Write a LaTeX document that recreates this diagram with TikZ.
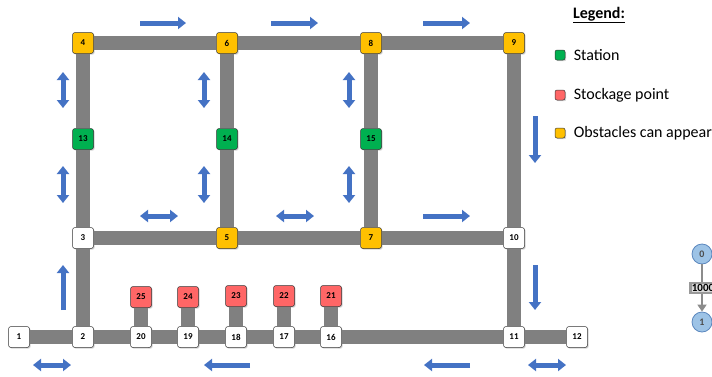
\documentclass[tikz,border=0pt]{standalone}
\usepackage{fontspec}
\setmainfont{Carlito}
\usetikzlibrary{arrows.meta,shadows,backgrounds}
\definecolor{roadgray}{RGB}{128,128,128}
\definecolor{flowblue}{RGB}{68,114,196}
\definecolor{obstyellow}{RGB}{255,192,0}
\definecolor{stationgreen}{RGB}{0,176,80}
\definecolor{stockred}{RGB}{255,102,102}
\definecolor{graphblue}{RGB}{157,195,230}
\definecolor{graphedge}{RGB}{91,135,190}
\tikzset{
  spot/.style={draw=black!80, line width=0.5pt, rounded corners=2.5pt,
    minimum size=21pt, inner sep=0pt, fill=white,
    font=\bfseries\fontsize{9}{9}\selectfont,
    drop shadow={shadow xshift=1.2pt, shadow yshift=-1.2pt, opacity=0.35}},
  obstacle/.style={spot, fill=obstyellow},
  station/.style={spot, fill=stationgreen},
  stock/.style={spot, fill=stockred},
  keybox/.style={spot, minimum size=10pt, rounded corners=2pt},
  road/.style={roadgray, line width=14pt},
  flow/.style={flowblue, line width=5pt, -{Triangle[width=12pt,length=8pt]}},
  flowboth/.style={flowblue, line width=5pt,
    {Triangle[width=12pt,length=8pt]}-{Triangle[width=12pt,length=8pt]}},
  keytext/.style={anchor=west, font=\fontsize{16}{17}\selectfont},
  vertex/.style={circle, draw=graphedge, line width=0.8pt, fill=graphblue,
    minimum size=20pt, inner sep=0pt, text=black!70, font=\bfseries\fontsize{10}{10}\selectfont}
}
\begin{document}
\begin{tikzpicture}[x=1pt, y=-1pt]
    \useasboundingbox (0,0) rectangle (712,376);

    % top row
    \node[obstacle] (n4) at (83,43) {4};
    \node[obstacle] (n6) at (227,43) {6};
    \node[obstacle] (n8) at (371,43) {8};
    \node[obstacle] (n9) at (514,43) {9};
    % stations
    \node[station] (n13) at (83,139) {13};
    \node[station] (n14) at (227,139) {14};
    \node[station] (n15) at (371,139) {15};
    % middle row
    \node[spot] (n3) at (83,238) {3};
    \node[obstacle] (n5) at (227,238) {5};
    \node[obstacle] (n7) at (371,238) {7};
    \node[spot] (n10) at (514,238) {10};
    % bottom row
    \node[spot] (n1) at (19,337) {1};
    \node[spot] (n2) at (83,337) {2};
    \node[spot] (n20) at (141,337) {20};
    \node[spot] (n19) at (188,337) {19};
    \node[spot] (n18) at (236,337) {18};
    \node[spot] (n17) at (284,337) {17};
    \node[spot] (n16) at (331,337) {16};
    \node[spot] (n11) at (514,337) {11};
    \node[spot] (n12) at (577,337) {12};
    % stockage points
    \node[stock] (n25) at (141,297) {25};
    \node[stock] (n24) at (188,297) {24};
    \node[stock] (n23) at (236,296) {23};
    \node[stock] (n22) at (284,296) {22};
    \node[stock] (n21) at (331,296) {21};

    \begin{scope}[on background layer]
        \foreach \a/\b in {n4/n6,n6/n8,n8/n9,n4/n13,n13/n3,n6/n14,n14/n5,n8/n15,n15/n7,
                           n9/n10,n3/n5,n5/n7,n7/n10,n3/n2,n10/n11,n1/n2,n2/n20,n20/n19,
                           n19/n18,n18/n17,n17/n16,n16/n11,n11/n12,
                           n25/n20,n24/n19,n23/n18,n22/n17,n21/n16}
            \draw[road] (\a) -- (\b);
    \end{scope}

    % traffic directions
    \foreach \xa/\xb/\y in {140/186/23,271/318/23,423/470/23,423/470/216}
        \draw[flow] (\xa,\y) -- (\xb,\y);
    \foreach \xa/\xb/\y in {250/204/365,470/424/365}
        \draw[flow] (\xa,\y) -- (\xb,\y);
    \foreach \x/\ya/\yb in {535/116/163,535/265/310,63/310/265}
        \draw[flow] (\x,\ya) -- (\x,\yb);
    \foreach \x in {63,204,349} {
        \draw[flowboth] (\x,72) -- (\x,108);
        \draw[flowboth] (\x,166) -- (\x,203);
    }
    \foreach \xa/\xb/\y in {140/178/216,276/314/216,33/71/365,528/566/365}
        \draw[flowboth] (\xa,\y) -- (\xb,\y);

    % legend
    \node[font=\bfseries\fontsize{16}{17}\selectfont] (legend) at (599,15) {\underline{Legend:}};
    \node[keybox, fill=stationgreen] (kstation) at (560,55) {};
    \node[keytext] at ([xshift=5pt]kstation.east) {Station};
    \node[keybox, fill=stockred] (kstock) at (560,95) {};
    \node[keytext] at ([xshift=5pt]kstock.east) {Stockage point};
    \node[keybox, fill=obstyellow] (kobst) at (560,133) {};
    \node[keytext] at ([xshift=5pt]kobst.east) {Obstacles can appear};

    % weighted edge sample
    \node[vertex] (v0) at (702,254) {0};
    \node[vertex] (v1) at (702,322) {1};
    \draw[black!45, line width=2.5pt, -{Triangle[width=9pt,length=7pt]}] (v0) -- (v1)
        node[midway, xshift=1pt, fill=black!15, draw=black!40, inner sep=1.5pt,
             font=\bfseries\fontsize{11}{11}\selectfont, text=black] {1000};
\end{tikzpicture}
\end{document}
